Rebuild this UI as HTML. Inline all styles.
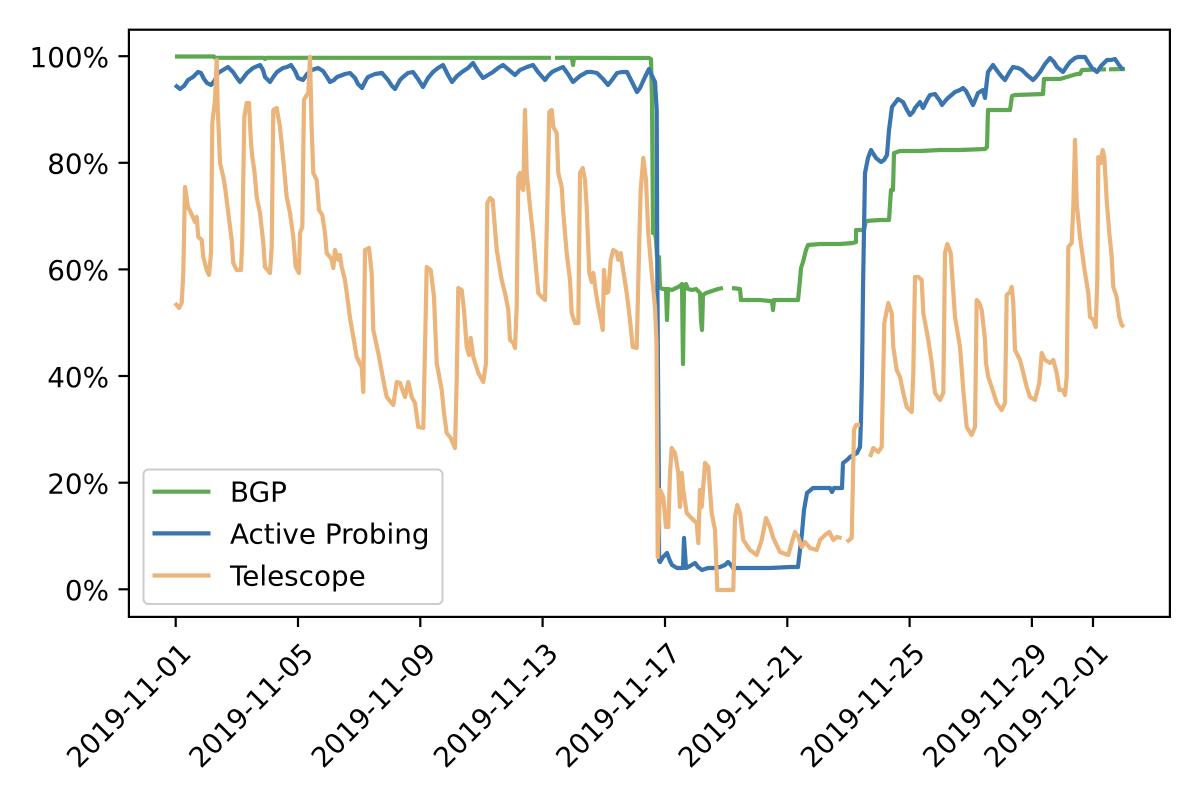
<!DOCTYPE html>
<html>
<head>
<meta charset="utf-8">
<style>
  html, body { margin: 0; padding: 0; background: #ffffff; }
  svg { display: block; }
  text { font-family: "DejaVu Sans", "Liberation Sans", sans-serif; font-size: 27.8px; fill: #000; }
</style>
</head>
<body>
<svg width="1200" height="800" viewBox="0 0 1200 800" xmlns="http://www.w3.org/2000/svg">
  <rect x="0" y="0" width="1200" height="800" fill="#ffffff"/>

  <g fill="none" stroke-width="4.2" stroke-linejoin="round" stroke-linecap="butt">
    <!-- BGP -->
    <g stroke="#5fa852">
      <polyline points="175,56.5 214,56.5 215,57.8 264,57.8 265,59 266,57.8 551,57.8"/>
      <polyline points="555,57.8 572,57.8 573,65 574,57.8 649,58 651,59 652,100 653,233 655,233 656,240 657,256 659,257 660,288 663,289 666,289 667,320 668,289 672,290 676,288 680,286 682,284 683,364 684,288 686,284 688,289 692,290 696,289 698,291 700,293 701,320 702,330 703,295 706,293 712,291 718,289 723,288"/>
      <polyline points="732,288 740,289 741,300 760,300 770,301 772,301 773,310 774,300 798,300 799,290 800,280 801,268 803,262 806,250 808,245 820,244 840,244 853,243 856,242 856,230 864,230 866,221 880,220 889,220 891,190 893,190 894,153 900,151 920,151 940,150 960,150 985,149 987,147 988,110 1010,110 1012,96 1015,95 1043,94 1044,79 1060,79 1077,74 1080,74 1082,70 1096,69.5"/>
      <polyline points="1099,69.5 1106,69.3"/>
      <polyline points="1109,69.3 1125,69"/>
    </g>
    <!-- Active Probing -->
    <polyline stroke="#3a75b0" points="175,85 180,89 184,86 188,80 193,77 198,72 201,73 204,79 207,83 211,85 215,80 218,73 223,70 228,67 233,72 237,78 240,82 244,77 247,73 253,68 260,65 263,70 265,77 270,82 274,76 277,72 283,68 287,67 291,65 295,71 298,78 303,80 307,74 312,70 318,68 323,71 327,77 330,82 334,80 337,77 345,74 350,73 355,78 358,84 362,88 366,80 368,77 375,74 382,73 388,80 392,86 395,89 400,80 403,77 408,73 413,72 418,79 423,87 428,78 433,72 438,68 443,65 448,75 452,82 457,76 462,72 468,68 473,63 478,71 483,78 488,75 493,72 498,68 503,65 509,70 515,75 520,70 527,67 533,65 538,72 545,80 548,76 552,72 556,70 563,67 568,74 573,82 580,76 587,72 592,72 597,73 603,79 608,85 612,80 617,73 622,72 627,72 632,82 637,92 640,88 645,77 649,69 653,78 655,82 656.7,110 657.3,270 658,370 659,500 659,560 660,562 663,557 667,553 670,561 672,565 677,568 683,568 684,538 686,568 690,566 695,563 698,567 702,570 708,568 714,568 720,567 725,565 728,562 731,565 733,568 750,568 770,568 790,567 798,567 800,550 802,533 804,510 807,493 813,488 820,488 830,488 832,492 834,488 842,488 843,463 847,460 850,457 857,453 860,447 861,420 862,373 863,290 864,230 865,173 868,158 871,150 876,158 881,162 884,160 887,155 889,130 892,107 898,99 903,102 907,110 910,115 913,112 915,108 920,102 923,108 927,100 930,95 935,94 940,101 942,105 946,100 948,98 955,92 960,90 963,88 966,91 968,95 973,105 976,98 978,93 983,90 985,98 987,80 988,72 993,65 998,72 1002,77 1005,80 1009,73 1013,67 1018,68 1022,70 1027,75 1033,80 1036,77 1040,72 1045,64 1050,58 1054,62 1057,67 1063,72 1067,66 1070,62 1075,58 1078,57 1085,57 1088,62 1092,68 1097,72 1101,66 1107,60 1111,60 1115,59 1119,65 1123,70"/>
    <!-- Telescope -->
    <g stroke="#eab47a">
      <polyline points="175,303 179,308 181.7,303 183.3,273 185,187 188,207 191,213 195,222 196.7,217 198.3,237 201.7,240 203.3,257 206.7,270 209,275 211,253 212.3,123 215,100 216.7,60 217.7,107 220,163 223.3,177 225,187 228.3,213 231.7,240 233.3,263 236.7,270 241,270 242.3,240 244.3,117 246.7,103 249,103 251,143 252.3,157 254.3,170 256.7,197 260,213 263.3,243 265,267 270,273 271.7,247 273.3,110 276.7,108 280,127 283.3,160 286.7,197 290,213 293.3,237 295.7,267 299,273 300,233 302.3,227 304,100 306.7,95 308.3,93 310,57 311.7,130 313.3,173 316.7,180 319,210 322.3,215 325,233 326.7,253 330,257 331.7,260 333.3,268 335,250 338.3,260 340,255 341.7,267 345,280 347.7,300 350,318 353.3,337 356.7,357 361.7,367 363.3,392 365,250 369,248 371.7,273 373.3,330 378.3,353 383.3,380 386.7,397 393.3,405 396.7,382 400,383 405,397 408.3,382 411.7,397 415,403 418.3,427 423.3,428 426.7,267 430.7,270 434,297 436.7,363 441.7,390 444,413 446.7,433 450.7,438 455,448 456.7,380 458.3,288 461.7,290 464,310 466.7,347 469,355 470.7,338 473.3,357 478.3,373 483.3,382 486,363 487.3,203 490,198 492.7,200 496.7,250 500,270 501.7,280 505,293 508.3,310 510,340 513.3,343 515,348 516.7,307 518.3,177 520,173 521.7,188 523.3,190 525,110 526.7,173 530,207 533.3,237 535,257 538.3,293 541.7,297 545,300 547.3,207 549.3,112 551.7,110 553.3,127 556.7,133 558.3,173 561.7,187 563.3,213 566.7,253 570,280 571.7,313 575,323 578.3,323 580,173 582.7,168 585,180 586.7,207 589.3,273 591.7,282 593.3,273 596,293 598.3,307 601,320 602.7,330 604,270 606,293 608.3,292 610.7,260 613.3,250 616.7,252 618.3,260 620.7,253 622.7,267 626.7,293 630,320 632.7,347 636.7,348 639.3,240 640.7,190 643.3,158 646,180 648.3,233 651.7,273 655,307 656.5,343 657.3,473 657.7,557 660,490 663.3,497 666,527 668.3,527 670,473 671.7,448 675,453 678.3,473 680,507 681.7,473 683.3,490 686.7,513 693.3,520 696.7,523 698.3,543 700,490 701.7,507 705,463 708.3,467 711.7,513 715,530 717.3,590 733.3,590 735,517 737.3,505 740,513 743.3,540 750,550 756.7,555 761.7,540 766,518 770,527 773.3,538 780,552 788.3,555 791.7,543 795,532 798.3,537 801.7,547 805,542 810,548 816.7,550 820,540 825,535 829.3,532 833.3,540 836.7,537 841.7,538"/>
      <polyline points="846.7,542 851.7,538 854,430 856,425 860,425"/>
      <polyline points="870,457 873.3,448 878.3,452 881.7,447 884.3,323 888.3,303 891.7,313 893.3,347 896.7,370 900,377 903.3,393 906.7,407 911.7,412 913.3,373 915,277 918.3,277 921.7,280 923.3,313 928.3,340 931.7,363 935,393 940,400 943.3,393 945,253 947.3,244 950.7,253 955,317 960,347 963.3,390 966.7,427 971.7,435 975,427 976.7,300 979.3,303 981.7,310 985,340 986,363 988.3,377 991.7,387 996.7,403 1001.7,410 1005,403 1006.7,295 1010,292 1011.7,287 1013.3,303 1015,350 1020,360 1023.3,373 1026.7,387 1030,397 1035,400 1039.3,383 1041.7,353 1045,360 1050,363 1053.3,360 1056.7,373 1059.3,390 1062.7,390 1065,395 1066.7,377 1068.3,247 1071.7,243 1073.3,207 1075,140 1076.7,203 1080,237 1085,273 1088.3,293 1090,317 1093.3,320 1095.7,327 1097.3,280 1098.3,157 1100.7,163 1102.7,150 1104.3,157 1106.7,200 1109.3,233 1111.7,257 1113.3,287 1116.7,297 1119.3,317 1121.7,325 1124,327"/>
    </g>
  </g>

  <!-- Axes frame -->
  <rect x="128.9" y="29.7" width="1041" height="587.2" fill="none" stroke="#000" stroke-width="2.2"/>

  <!-- Y ticks -->
  <g stroke="#000" stroke-width="2.2">
    <line x1="118.5" y1="589.3" x2="128.9" y2="589.3"/>
    <line x1="118.5" y1="482.7" x2="128.9" y2="482.7"/>
    <line x1="118.5" y1="376.0" x2="128.9" y2="376.0"/>
    <line x1="118.5" y1="269.4" x2="128.9" y2="269.4"/>
    <line x1="118.5" y1="162.8" x2="128.9" y2="162.8"/>
    <line x1="118.5" y1="56.2" x2="128.9" y2="56.2"/>
  </g>
  <g text-anchor="end">
    <text x="109" y="600">0%</text>
    <text x="109" y="493.4">20%</text>
    <text x="109" y="386.8">40%</text>
    <text x="109" y="280.2">60%</text>
    <text x="109" y="173.6">80%</text>
    <text x="109" y="67">100%</text>
  </g>

  <!-- X ticks -->
  <g stroke="#000" stroke-width="2.2">
    <line x1="175.7" y1="616.9" x2="175.7" y2="627"/>
    <line x1="298.0" y1="616.9" x2="298.0" y2="627"/>
    <line x1="420.3" y1="616.9" x2="420.3" y2="627"/>
    <line x1="542.6" y1="616.9" x2="542.6" y2="627"/>
    <line x1="665.0" y1="616.9" x2="665.0" y2="627"/>
    <line x1="787.3" y1="616.9" x2="787.3" y2="627"/>
    <line x1="909.6" y1="616.9" x2="909.6" y2="627"/>
    <line x1="1031.9" y1="616.9" x2="1031.9" y2="627"/>
    <line x1="1093.0" y1="616.9" x2="1093.0" y2="627"/>
  </g>
  <g text-anchor="end">
    <text x="192.7" y="655" transform="rotate(-45 192.7 655)">2019-11-01</text>
    <text x="315.0" y="655" transform="rotate(-45 315.0 655)">2019-11-05</text>
    <text x="437.3" y="655" transform="rotate(-45 437.3 655)">2019-11-09</text>
    <text x="559.6" y="655" transform="rotate(-45 559.6 655)">2019-11-13</text>
    <text x="682.0" y="655" transform="rotate(-45 682.0 655)">2019-11-17</text>
    <text x="804.3" y="655" transform="rotate(-45 804.3 655)">2019-11-21</text>
    <text x="926.6" y="655" transform="rotate(-45 926.6 655)">2019-11-25</text>
    <text x="1048.9" y="655" transform="rotate(-45 1048.9 655)">2019-11-29</text>
    <text x="1110.0" y="655" transform="rotate(-45 1110.0 655)">2019-12-01</text>
  </g>

  <!-- Legend -->
  <rect x="143.5" y="469.5" width="299" height="134.5" rx="5" ry="5" fill="#ffffff" fill-opacity="0.8" stroke="#cccccc" stroke-width="2"/>
  <line x1="152.5" y1="491.7" x2="210.5" y2="491.7" stroke="#5fa852" stroke-width="4.2"/>
  <line x1="152.5" y1="533.4" x2="210.5" y2="533.4" stroke="#3a75b0" stroke-width="4.2"/>
  <line x1="152.5" y1="575.5" x2="210.5" y2="575.5" stroke="#eab47a" stroke-width="4.2"/>
  <text x="230" y="501.7">BGP</text>
  <text x="230" y="543.4">Active Probing</text>
  <text x="230" y="585.3">Telescope</text>
</svg>
</body>
</html>
